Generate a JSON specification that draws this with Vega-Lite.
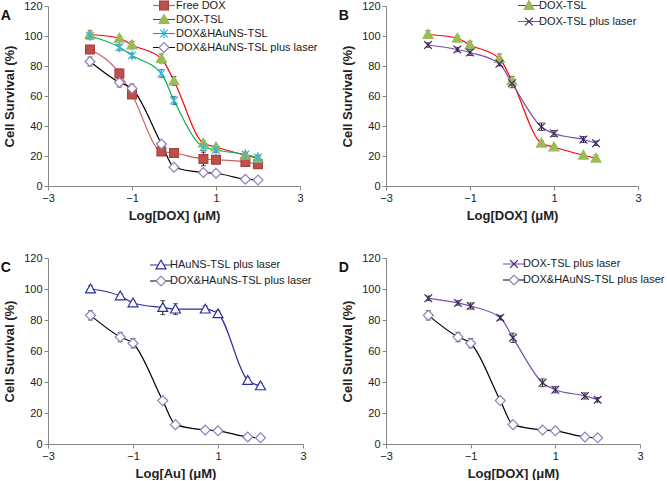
{
  "$schema": "https://vega.github.io/schema/vega-lite/v6.json",
  "padding": {"left": 0, "top": 0, "right": 0, "bottom": 0},
  "background": "#ffffff",
  "config": {
    "font": "Liberation Sans",
    "view": {"stroke": null},
    "axis": {"domainColor": "#868686", "tickColor": "#868686", "tickSize": 4, "labelFont": "Liberation Sans", "labelFontSize": 11, "labelColor": "#222222", "titleFont": "Liberation Sans", "titleFontSize": 13, "titleFontWeight": "bold", "titleColor": "#222222", "grid": false, "labelPadding": 2, "labelFlush": false, "labelOverlap": false},
    "axisX": {"titlePadding": 6},
    "axisY": {"titlePadding": 7},
    "legend": {"clipHeight": 11, "padding": 0, "symbolSize": 484, "symbolStrokeWidth": 1.2, "labelFont": "Liberation Sans", "labelFontSize": 11, "labelColor": "#222222", "labelOffset": 0},
    "title": {"font": "Liberation Sans", "fontSize": 14, "fontWeight": "bold", "color": "#111111", "anchor": "start", "frame": "bounds", "dy": 27, "dx": -3}
  },
  "datasets": {
    "survival": [
      {"series": "Free DOX", "logc": -2, "survival": 91, "err": 2.5},
      {"series": "Free DOX", "logc": -1.3, "survival": 75, "err": 3},
      {"series": "Free DOX", "logc": -1, "survival": 61, "err": 2.5},
      {"series": "Free DOX", "logc": -0.3, "survival": 23, "err": 1.5},
      {"series": "Free DOX", "logc": 0, "survival": 22, "err": 1},
      {"series": "Free DOX", "logc": 0.7, "survival": 18, "err": 4.5},
      {"series": "Free DOX", "logc": 1, "survival": 17.5, "err": 1.5},
      {"series": "Free DOX", "logc": 1.7, "survival": 16, "err": 1},
      {"series": "Free DOX", "logc": 2, "survival": 14.5, "err": 1},
      {"series": "DOX-TSL", "logc": -2, "survival": 101, "err": 2.5},
      {"series": "DOX-TSL", "logc": -1.3, "survival": 98.5, "err": 1.5},
      {"series": "DOX-TSL", "logc": -1, "survival": 94, "err": 2.5},
      {"series": "DOX-TSL", "logc": -0.3, "survival": 85, "err": 3},
      {"series": "DOX-TSL", "logc": 0, "survival": 70, "err": 3},
      {"series": "DOX-TSL", "logc": 0.7, "survival": 28.5, "err": 1.5},
      {"series": "DOX-TSL", "logc": 1, "survival": 26, "err": 1},
      {"series": "DOX-TSL", "logc": 1.7, "survival": 20.5, "err": 1},
      {"series": "DOX-TSL", "logc": 2, "survival": 18.5, "err": 2},
      {"series": "DOX&HAuNS-TSL", "logc": -2, "survival": 100, "err": 2},
      {"series": "DOX&HAuNS-TSL", "logc": -1.3, "survival": 92.5, "err": 2},
      {"series": "DOX&HAuNS-TSL", "logc": -1, "survival": 87, "err": 1.5},
      {"series": "DOX&HAuNS-TSL", "logc": -0.3, "survival": 75, "err": 2.5},
      {"series": "DOX&HAuNS-TSL", "logc": 0, "survival": 57, "err": 2.5},
      {"series": "DOX&HAuNS-TSL", "logc": 0.7, "survival": 26, "err": 2.5},
      {"series": "DOX&HAuNS-TSL", "logc": 1, "survival": 24, "err": 1.5},
      {"series": "DOX&HAuNS-TSL", "logc": 1.7, "survival": 21, "err": 1.5},
      {"series": "DOX&HAuNS-TSL", "logc": 2, "survival": 19, "err": 1.5},
      {"series": "DOX&HAuNS-TSL plus laser", "logc": -2, "survival": 83, "err": 3},
      {"series": "DOX&HAuNS-TSL plus laser", "logc": -1.3, "survival": 69, "err": 3},
      {"series": "DOX&HAuNS-TSL plus laser", "logc": -1, "survival": 65, "err": 3},
      {"series": "DOX&HAuNS-TSL plus laser", "logc": -0.3, "survival": 28, "err": 1.5},
      {"series": "DOX&HAuNS-TSL plus laser", "logc": 0, "survival": 12.5, "err": 1},
      {"series": "DOX&HAuNS-TSL plus laser", "logc": 0.7, "survival": 9, "err": 1},
      {"series": "DOX&HAuNS-TSL plus laser", "logc": 1, "survival": 8.5, "err": 1},
      {"series": "DOX&HAuNS-TSL plus laser", "logc": 1.7, "survival": 4.5, "err": 0.8},
      {"series": "DOX&HAuNS-TSL plus laser", "logc": 2, "survival": 4, "err": 0.8},
      {"series": "HAuNS-TSL plus laser", "logc": -2, "survival": 100, "err": 2},
      {"series": "HAuNS-TSL plus laser", "logc": -1.3, "survival": 95.5, "err": 1.5},
      {"series": "HAuNS-TSL plus laser", "logc": -1, "survival": 91, "err": 1.5},
      {"series": "HAuNS-TSL plus laser", "logc": -0.3, "survival": 88, "err": 4.5},
      {"series": "HAuNS-TSL plus laser", "logc": 0, "survival": 87, "err": 3.5},
      {"series": "HAuNS-TSL plus laser", "logc": 0.7, "survival": 87, "err": 2},
      {"series": "HAuNS-TSL plus laser", "logc": 1, "survival": 84, "err": 2},
      {"series": "HAuNS-TSL plus laser", "logc": 1.7, "survival": 41, "err": 2},
      {"series": "HAuNS-TSL plus laser", "logc": 2, "survival": 37.5, "err": 1.5},
      {"series": "DOX-TSL plus laser", "logc": -2, "survival": 94, "err": 1.5},
      {"series": "DOX-TSL plus laser", "logc": -1.3, "survival": 91, "err": 1.5},
      {"series": "DOX-TSL plus laser", "logc": -1, "survival": 89, "err": 2},
      {"series": "DOX-TSL plus laser", "logc": -0.3, "survival": 81.5, "err": 1.5},
      {"series": "DOX-TSL plus laser", "logc": 0, "survival": 68.5, "err": 3},
      {"series": "DOX-TSL plus laser", "logc": 0.7, "survival": 39.5, "err": 2.5},
      {"series": "DOX-TSL plus laser", "logc": 1, "survival": 35, "err": 2},
      {"series": "DOX-TSL plus laser", "logc": 1.7, "survival": 31, "err": 2},
      {"series": "DOX-TSL plus laser", "logc": 2, "survival": 28.5, "err": 1.5}
    ]
  },
  "data": {"name": "survival"},
  "columns": 2,
  "align": "none",
  "bounds": "flush",
  "spacing": {"row": 72, "column": 83},
  "resolve": {"scale": {"stroke": "independent", "fill": "independent", "shape": "independent"}, "legend": {"stroke": "independent", "fill": "independent", "shape": "independent"}},
  "concat": [
    {
      "width": 252, "height": 180,
      "title": {"text": "A"},
      "transform": [{"filter": {"field": "series", "oneOf": ["Free DOX", "DOX-TSL", "DOX&HAuNS-TSL", "DOX&HAuNS-TSL plus laser"]}}],
      "encoding": {
        "x": {"field": "logc", "type": "quantitative", "title": "Log[DOX] (μM)", "scale": {"domain": [-3, 3]}, "axis": {"values": [-3, -1, 1, 3]}},
        "y": {"field": "survival", "type": "quantitative", "title": "Cell Survival (%)", "scale": {"domain": [0, 120]}, "axis": {"values": [0, 20, 40, 60, 80, 100, 120]}}
      },
      "resolve": {"scale": {"stroke": "independent", "fill": "independent", "shape": "independent"}, "legend": {"stroke": "independent", "fill": "independent", "shape": "independent"}},
      "layer": [
        {
          "mark": {"type": "line", "interpolate": "monotone", "strokeWidth": 1.2},
          "encoding": {
            "stroke": {"field": "series", "type": "nominal", "scale": {"domain": ["Free DOX", "DOX-TSL", "DOX&HAuNS-TSL", "DOX&HAuNS-TSL plus laser"], "range": ["#C8605D", "#FF0000", "#00B050", "#000000"]},
              "legend": {"orient": "none", "legendX": 104, "legendY": -6, "title": null, "symbolType": "stroke", "rowPadding": 2}}
          }
        },
        {
          "mark": {"type": "errorbar", "ticks": {"size": 5, "color": "#111111", "strokeWidth": 1}, "rule": {"color": "#111111", "strokeWidth": 1}},
          "encoding": {
            "yError": {"field": "err"}
          }
        },
        {
          "mark": {"type": "point", "filled": true, "size": 484, "strokeWidth": 1.2, "opacity": 1},
          "encoding": {
            "shape": {"field": "series", "type": "nominal", "scale": {"domain": ["Free DOX", "DOX-TSL", "DOX&HAuNS-TSL", "DOX&HAuNS-TSL plus laser"], "range": ["M-0.4,-0.4H0.4V0.4H-0.4Z", "M0,-0.45L0.45,0.35L-0.45,0.35Z", "M-0.35,-0.35L0.35,0.35M-0.35,0.35L0.35,-0.35M0,-0.45V0.45", "M0,-0.45L0.45,0L0,0.45L-0.45,0Z"]},
              "legend": {"orient": "none", "legendX": 104, "legendY": -6, "title": null, "symbolOpacity": 1, "labelOpacity": 0, "rowPadding": 2}},
            "fill": {"field": "series", "type": "nominal", "scale": {"domain": ["Free DOX", "DOX-TSL", "DOX&HAuNS-TSL", "DOX&HAuNS-TSL plus laser"], "range": ["#C0504D", "#9BBB59", "#2EB8E6", "#FFFFFF"]},
              "legend": {"orient": "none", "legendX": 104, "legendY": -6, "title": null, "symbolOpacity": 1, "labelOpacity": 0, "rowPadding": 2}},
            "stroke": {"field": "series", "type": "nominal", "scale": {"domain": ["Free DOX", "DOX-TSL", "DOX&HAuNS-TSL", "DOX&HAuNS-TSL plus laser"], "range": ["#A8403D", "#9BBB59", "#2EB8E6", "#8C7FB8"]},
              "legend": {"orient": "none", "legendX": 104, "legendY": -6, "title": null, "symbolOpacity": 1, "labelOpacity": 0, "rowPadding": 2}}
          }
        }
      ]
    },
    {
      "width": 252, "height": 180,
      "title": {"text": "B"},
      "transform": [{"filter": {"field": "series", "oneOf": ["DOX-TSL", "DOX-TSL plus laser"]}}],
      "encoding": {
        "x": {"field": "logc", "type": "quantitative", "title": "Log[DOX] (μM)", "scale": {"domain": [-3, 3]}, "axis": {"values": [-3, -1, 1, 3]}},
        "y": {"field": "survival", "type": "quantitative", "title": "Cell Survival (%)", "scale": {"domain": [0, 120]}, "axis": {"values": [0, 20, 40, 60, 80, 100, 120]}}
      },
      "resolve": {"scale": {"stroke": "independent", "fill": "independent", "shape": "independent"}, "legend": {"stroke": "independent", "fill": "independent", "shape": "independent"}},
      "layer": [
        {
          "mark": {"type": "line", "interpolate": "monotone", "strokeWidth": 1.2},
          "encoding": {
            "stroke": {"field": "series", "type": "nominal", "scale": {"domain": ["DOX-TSL", "DOX-TSL plus laser"], "range": ["#FF0000", "#7B4FB0"]},
              "legend": {"orient": "none", "legendX": 131, "legendY": -6, "title": null, "symbolType": "stroke", "rowPadding": 4, "labelOffset": -2}}
          }
        },
        {
          "mark": {"type": "errorbar", "ticks": {"size": 5, "color": "#111111", "strokeWidth": 1}, "rule": {"color": "#111111", "strokeWidth": 1}},
          "encoding": {
            "yError": {"field": "err"}
          }
        },
        {
          "mark": {"type": "point", "filled": true, "size": 484, "strokeWidth": 1.2, "opacity": 1},
          "encoding": {
            "shape": {"field": "series", "type": "nominal", "scale": {"domain": ["DOX-TSL", "DOX-TSL plus laser"], "range": ["M0,-0.45L0.45,0.35L-0.45,0.35Z", "M-0.35,-0.35L0.35,0.35M-0.35,0.35L0.35,-0.35"]},
              "legend": {"orient": "none", "legendX": 131, "legendY": -6, "title": null, "symbolOpacity": 1, "labelOpacity": 0, "rowPadding": 4, "labelOffset": -2}},
            "fill": {"field": "series", "type": "nominal", "scale": {"domain": ["DOX-TSL", "DOX-TSL plus laser"], "range": ["#9BBB59", "#3F2366"]},
              "legend": {"orient": "none", "legendX": 131, "legendY": -6, "title": null, "symbolOpacity": 1, "labelOpacity": 0, "rowPadding": 4, "labelOffset": -2}},
            "stroke": {"field": "series", "type": "nominal", "scale": {"domain": ["DOX-TSL", "DOX-TSL plus laser"], "range": ["#9BBB59", "#3F2366"]},
              "legend": {"orient": "none", "legendX": 131, "legendY": -6, "title": null, "symbolOpacity": 1, "labelOpacity": 0, "rowPadding": 4, "labelOffset": -2}}
          }
        }
      ]
    },
    {
      "width": 255, "height": 186,
      "title": {"text": "C"},
      "transform": [{"filter": {"field": "series", "oneOf": ["HAuNS-TSL plus laser", "DOX&HAuNS-TSL plus laser"]}}],
      "encoding": {
        "x": {"field": "logc", "type": "quantitative", "title": "Log[Au] (μM)", "scale": {"domain": [-3, 3]}, "axis": {"values": [-3, -1, 1, 3]}},
        "y": {"field": "survival", "type": "quantitative", "title": "Cell Survival (%)", "scale": {"domain": [0, 120]}, "axis": {"values": [0, 20, 40, 60, 80, 100, 120]}}
      },
      "resolve": {"scale": {"stroke": "independent", "fill": "independent", "shape": "independent"}, "legend": {"stroke": "independent", "fill": "independent", "shape": "independent"}},
      "layer": [
        {
          "mark": {"type": "line", "interpolate": "monotone", "strokeWidth": 1.2},
          "encoding": {
            "stroke": {"field": "series", "type": "nominal", "scale": {"domain": ["HAuNS-TSL plus laser", "DOX&HAuNS-TSL plus laser"], "range": ["#2B2E9E", "#000000"]},
              "legend": {"orient": "none", "legendX": 101, "legendY": 1.5, "title": null, "symbolType": "stroke", "rowPadding": 4, "labelOffset": -3}}
          }
        },
        {
          "mark": {"type": "errorbar", "ticks": {"size": 5, "color": "#111111", "strokeWidth": 1}, "rule": {"color": "#111111", "strokeWidth": 1}},
          "encoding": {
            "yError": {"field": "err"}
          }
        },
        {
          "mark": {"type": "point", "filled": true, "size": 484, "strokeWidth": 1.2, "opacity": 1},
          "encoding": {
            "shape": {"field": "series", "type": "nominal", "scale": {"domain": ["HAuNS-TSL plus laser", "DOX&HAuNS-TSL plus laser"], "range": ["M0,-0.45L0.45,0.35L-0.45,0.35Z", "M0,-0.45L0.45,0L0,0.45L-0.45,0Z"]},
              "legend": {"orient": "none", "legendX": 101, "legendY": 1.5, "title": null, "symbolOpacity": 1, "labelOpacity": 0, "rowPadding": 4, "labelOffset": -3}},
            "fill": {"field": "series", "type": "nominal", "scale": {"domain": ["HAuNS-TSL plus laser", "DOX&HAuNS-TSL plus laser"], "range": ["#FFFFFF", "#FFFFFF"]},
              "legend": {"orient": "none", "legendX": 101, "legendY": 1.5, "title": null, "symbolOpacity": 1, "labelOpacity": 0, "rowPadding": 4, "labelOffset": -3}},
            "stroke": {"field": "series", "type": "nominal", "scale": {"domain": ["HAuNS-TSL plus laser", "DOX&HAuNS-TSL plus laser"], "range": ["#2B2E9E", "#8C7FB8"]},
              "legend": {"orient": "none", "legendX": 101, "legendY": 1.5, "title": null, "symbolOpacity": 1, "labelOpacity": 0, "rowPadding": 4, "labelOffset": -3}}
          }
        }
      ]
    },
    {
      "width": 254, "height": 186,
      "title": {"text": "D"},
      "transform": [{"filter": {"field": "series", "oneOf": ["DOX-TSL plus laser", "DOX&HAuNS-TSL plus laser"]}}],
      "encoding": {
        "x": {"field": "logc", "type": "quantitative", "title": "Log[DOX] (μM)", "scale": {"domain": [-3, 3]}, "axis": {"values": [-3, -1, 1, 3]}},
        "y": {"field": "survival", "type": "quantitative", "title": "Cell Survival (%)", "scale": {"domain": [0, 120]}, "axis": {"values": [0, 20, 40, 60, 80, 100, 120]}}
      },
      "resolve": {"scale": {"stroke": "independent", "fill": "independent", "shape": "independent"}, "legend": {"stroke": "independent", "fill": "independent", "shape": "independent"}},
      "layer": [
        {
          "mark": {"type": "line", "interpolate": "monotone", "strokeWidth": 1.2},
          "encoding": {
            "stroke": {"field": "series", "type": "nominal", "scale": {"domain": ["DOX-TSL plus laser", "DOX&HAuNS-TSL plus laser"], "range": ["#7B4FB0", "#000000"]},
              "legend": {"orient": "none", "legendX": 116, "legendY": 0.5, "title": null, "symbolType": "stroke", "rowPadding": 4, "labelOffset": -3}}
          }
        },
        {
          "mark": {"type": "errorbar", "ticks": {"size": 5, "color": "#111111", "strokeWidth": 1}, "rule": {"color": "#111111", "strokeWidth": 1}},
          "encoding": {
            "yError": {"field": "err"}
          }
        },
        {
          "mark": {"type": "point", "filled": true, "size": 484, "strokeWidth": 1.2, "opacity": 1},
          "encoding": {
            "shape": {"field": "series", "type": "nominal", "scale": {"domain": ["DOX-TSL plus laser", "DOX&HAuNS-TSL plus laser"], "range": ["M-0.35,-0.35L0.35,0.35M-0.35,0.35L0.35,-0.35", "M0,-0.45L0.45,0L0,0.45L-0.45,0Z"]},
              "legend": {"orient": "none", "legendX": 116, "legendY": 0.5, "title": null, "symbolOpacity": 1, "labelOpacity": 0, "rowPadding": 4, "labelOffset": -3}},
            "fill": {"field": "series", "type": "nominal", "scale": {"domain": ["DOX-TSL plus laser", "DOX&HAuNS-TSL plus laser"], "range": ["#3F2366", "#FFFFFF"]},
              "legend": {"orient": "none", "legendX": 116, "legendY": 0.5, "title": null, "symbolOpacity": 1, "labelOpacity": 0, "rowPadding": 4, "labelOffset": -3}},
            "stroke": {"field": "series", "type": "nominal", "scale": {"domain": ["DOX-TSL plus laser", "DOX&HAuNS-TSL plus laser"], "range": ["#3F2366", "#8C7FB8"]},
              "legend": {"orient": "none", "legendX": 116, "legendY": 0.5, "title": null, "symbolOpacity": 1, "labelOpacity": 0, "rowPadding": 4, "labelOffset": -3}}
          }
        }
      ]
    }
  ]
}
